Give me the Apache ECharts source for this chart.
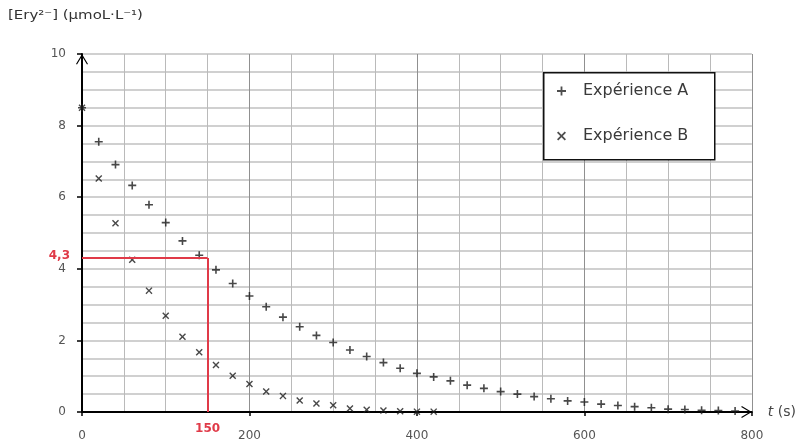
<!DOCTYPE html>
<html>
<head>
<meta charset="utf-8">
<script src="https://cdn.jsdelivr.net/npm/echarts@6/dist/echarts.min.js"></script>
<style>
  html, body { margin: 0; padding: 0; background: #fff; }
  #chart { width: 799px; height: 443px; }
</style>
</head>
<body>
<div id="chart"></div>
<script>
// Sampling times (s) and measured concentrations (µmol/L)
var timesA = [0, 20, 40, 60, 80, 100, 120, 140, 160, 180, 200, 220, 240, 260, 280, 300, 320, 340, 360, 380,
              400, 420, 440, 460, 480, 500, 520, 540, 560, 580, 600, 620, 640, 660, 680, 700, 720, 740, 760, 780];
var concA = [8.5, 7.55, 6.91, 6.33, 5.79, 5.29, 4.78, 4.38, 3.97, 3.59, 3.24, 2.94, 2.65, 2.38, 2.14, 1.94, 1.73, 1.55, 1.38, 1.22,
             1.08, 0.98, 0.87, 0.75, 0.66, 0.57, 0.50, 0.43, 0.37, 0.31, 0.28, 0.22, 0.18, 0.15, 0.12, 0.08, 0.07, 0.05, 0.04, 0.03];
var timesB = [0, 20, 40, 60, 80, 100, 120, 140, 160, 180, 200, 220, 240, 260, 280, 300, 320, 340, 360, 380, 400, 420];
var concB = [8.5, 6.52, 5.27, 4.25, 3.39, 2.69, 2.10, 1.67, 1.31, 1.01, 0.78, 0.57, 0.45, 0.32, 0.24, 0.19, 0.10, 0.06, 0.04, 0.02, 0.01, 0.01];

// Half-life construction read on curve A
var halfTime = 150;
var halfConc = 4.3;
var halfConcLabel = '4,3';

var seriesNames = ['Expérience A', 'Expérience B'];

var PLUS = 'path://M4,0H6V4H10V6H6V10H4V6H0V4H4Z';
var CROSS = 'path://M0,1.4L1.4,0L5,3.6L8.6,0L10,1.4L6.4,5L10,8.6L8.6,10L5,6.4L1.4,10L0,8.6L3.6,5Z';
// Open chevron; the tiny extra sub-path pads the box so the tip sits on the axis end
var OPEN_ARROW = 'path://M0,-10.6L0.01,-10.6L0,-10.59Z M0,0L6,10L5,10.6L0,2.2L-5,10.6L-6,10Z';

var FONT = 'DejaVu Sans';
var RED = '#e03a48';

function pairs(xs, ys) {
  return xs.map(function (x, i) { return [x, ys[i]]; });
}

var chart = echarts.init(document.getElementById('chart'));

chart.setOption({
  backgroundColor: '#ffffff',
  animation: false,
  textStyle: { fontFamily: FONT },
  grid: { left: 82, right: 47, top: 54, bottom: 31, containLabel: false },
  graphic: [
    {
      type: 'text', left: 8, top: 9, z: 5,
      scaleX: 1.15,
      style: { text: '[Ery²⁻] (µmoL·L⁻¹)', fontFamily: FONT, fontSize: 13, fill: '#333' }
    },
    {
      type: 'rect', left: 543, top: 72, z: 10,
      shape: { width: 171, height: 87 },
      style: { fill: '#ffffff', stroke: '#111', lineWidth: 1.5 }
    }
  ],
  legend: {
    orient: 'vertical',
    left: 557, top: 82, z: 11,
    padding: 0,
    itemGap: 27,
    itemWidth: 9, itemHeight: 9,
    itemStyle: { color: '#222' },
    textStyle: { fontFamily: FONT, fontSize: 16, color: '#3a3a3a', lineHeight: 18, padding: [0, 0, 0, 12] },
    data: [
      { name: seriesNames[0], icon: PLUS },
      { name: seriesNames[1], icon: CROSS }
    ]
  },
  xAxis: {
    type: 'value',
    min: 0, max: 800, interval: 200,
    name: '{i|t} (s)',
    nameLocation: 'end',
    nameGap: 16,
    nameTextStyle: {
      fontFamily: FONT, fontSize: 14, color: '#444', verticalAlign: 'middle',
      rich: { i: { fontStyle: 'italic', fontFamily: FONT, fontSize: 14, color: '#444' } }
    },
    axisLine: {
      show: true, onZero: false,
      lineStyle: { color: '#000', width: 2 },
      symbol: ['none', OPEN_ARROW], symbolSize: [12, 22]
    },
    axisTick: { show: true, length: 4, lineStyle: { color: '#000', width: 1.5 } },
    axisLabel: { margin: 18, fontFamily: FONT, fontSize: 12, color: '#555' },
    splitLine: { show: true, lineStyle: { color: '#909090', width: 1 } },
    minorTick: { show: false, splitNumber: 4 },
    minorSplitLine: { show: true, lineStyle: { color: '#bababa', width: 1 } }
  },
  yAxis: {
    type: 'value',
    min: 0, max: 10, interval: 2,
    axisLine: {
      show: true, onZero: false,
      lineStyle: { color: '#000', width: 2 },
      symbol: ['none', OPEN_ARROW], symbolSize: [12, 22]
    },
    axisTick: { show: true, length: 5, lineStyle: { color: '#000', width: 1.5 } },
    axisLabel: { margin: 16, fontFamily: FONT, fontSize: 12, color: '#555' },
    splitLine: { show: true, lineStyle: { color: '#d0d0d0', width: 2 } },
    minorTick: { show: false, splitNumber: 4 },
    minorSplitLine: { show: true, lineStyle: { color: '#d0d0d0', width: 2 } }
  },
  series: [
    {
      name: seriesNames[0],
      type: 'scatter',
      symbol: PLUS,
      symbolSize: 8,
      itemStyle: { color: '#1a1a1a' },
      data: pairs(timesA, concA),
      z: 4,
      markLine: {
        silent: true,
        symbol: ['none', 'none'],
        lineStyle: { color: RED, width: 2, type: 'solid' },
        label: { show: false },
        data: [
          [{ coord: [0, halfConc] }, { coord: [halfTime, halfConc] }],
          [{ coord: [halfTime, halfConc] }, { coord: [halfTime, 0] }]
        ]
      },
      markPoint: {
        silent: true,
        symbol: 'circle',
        symbolSize: 0,
        data: [
          {
            coord: [0, halfConc],
            label: { show: true, position: 'left', distance: 12, offset: [0, -2], formatter: halfConcLabel,
                     color: RED, fontWeight: 'bold', fontSize: 12, fontFamily: FONT }
          },
          {
            coord: [halfTime, 0],
            label: { show: true, position: 'bottom', distance: 11, formatter: String(halfTime),
                     color: RED, fontWeight: 'bold', fontSize: 12, fontFamily: FONT }
          }
        ]
      }
    },
    {
      name: seriesNames[1],
      type: 'scatter',
      symbol: CROSS,
      symbolSize: 7,
      itemStyle: { color: '#1a1a1a' },
      data: pairs(timesB, concB),
      z: 4
    }
  ]
});
</script>
</body>
</html>
